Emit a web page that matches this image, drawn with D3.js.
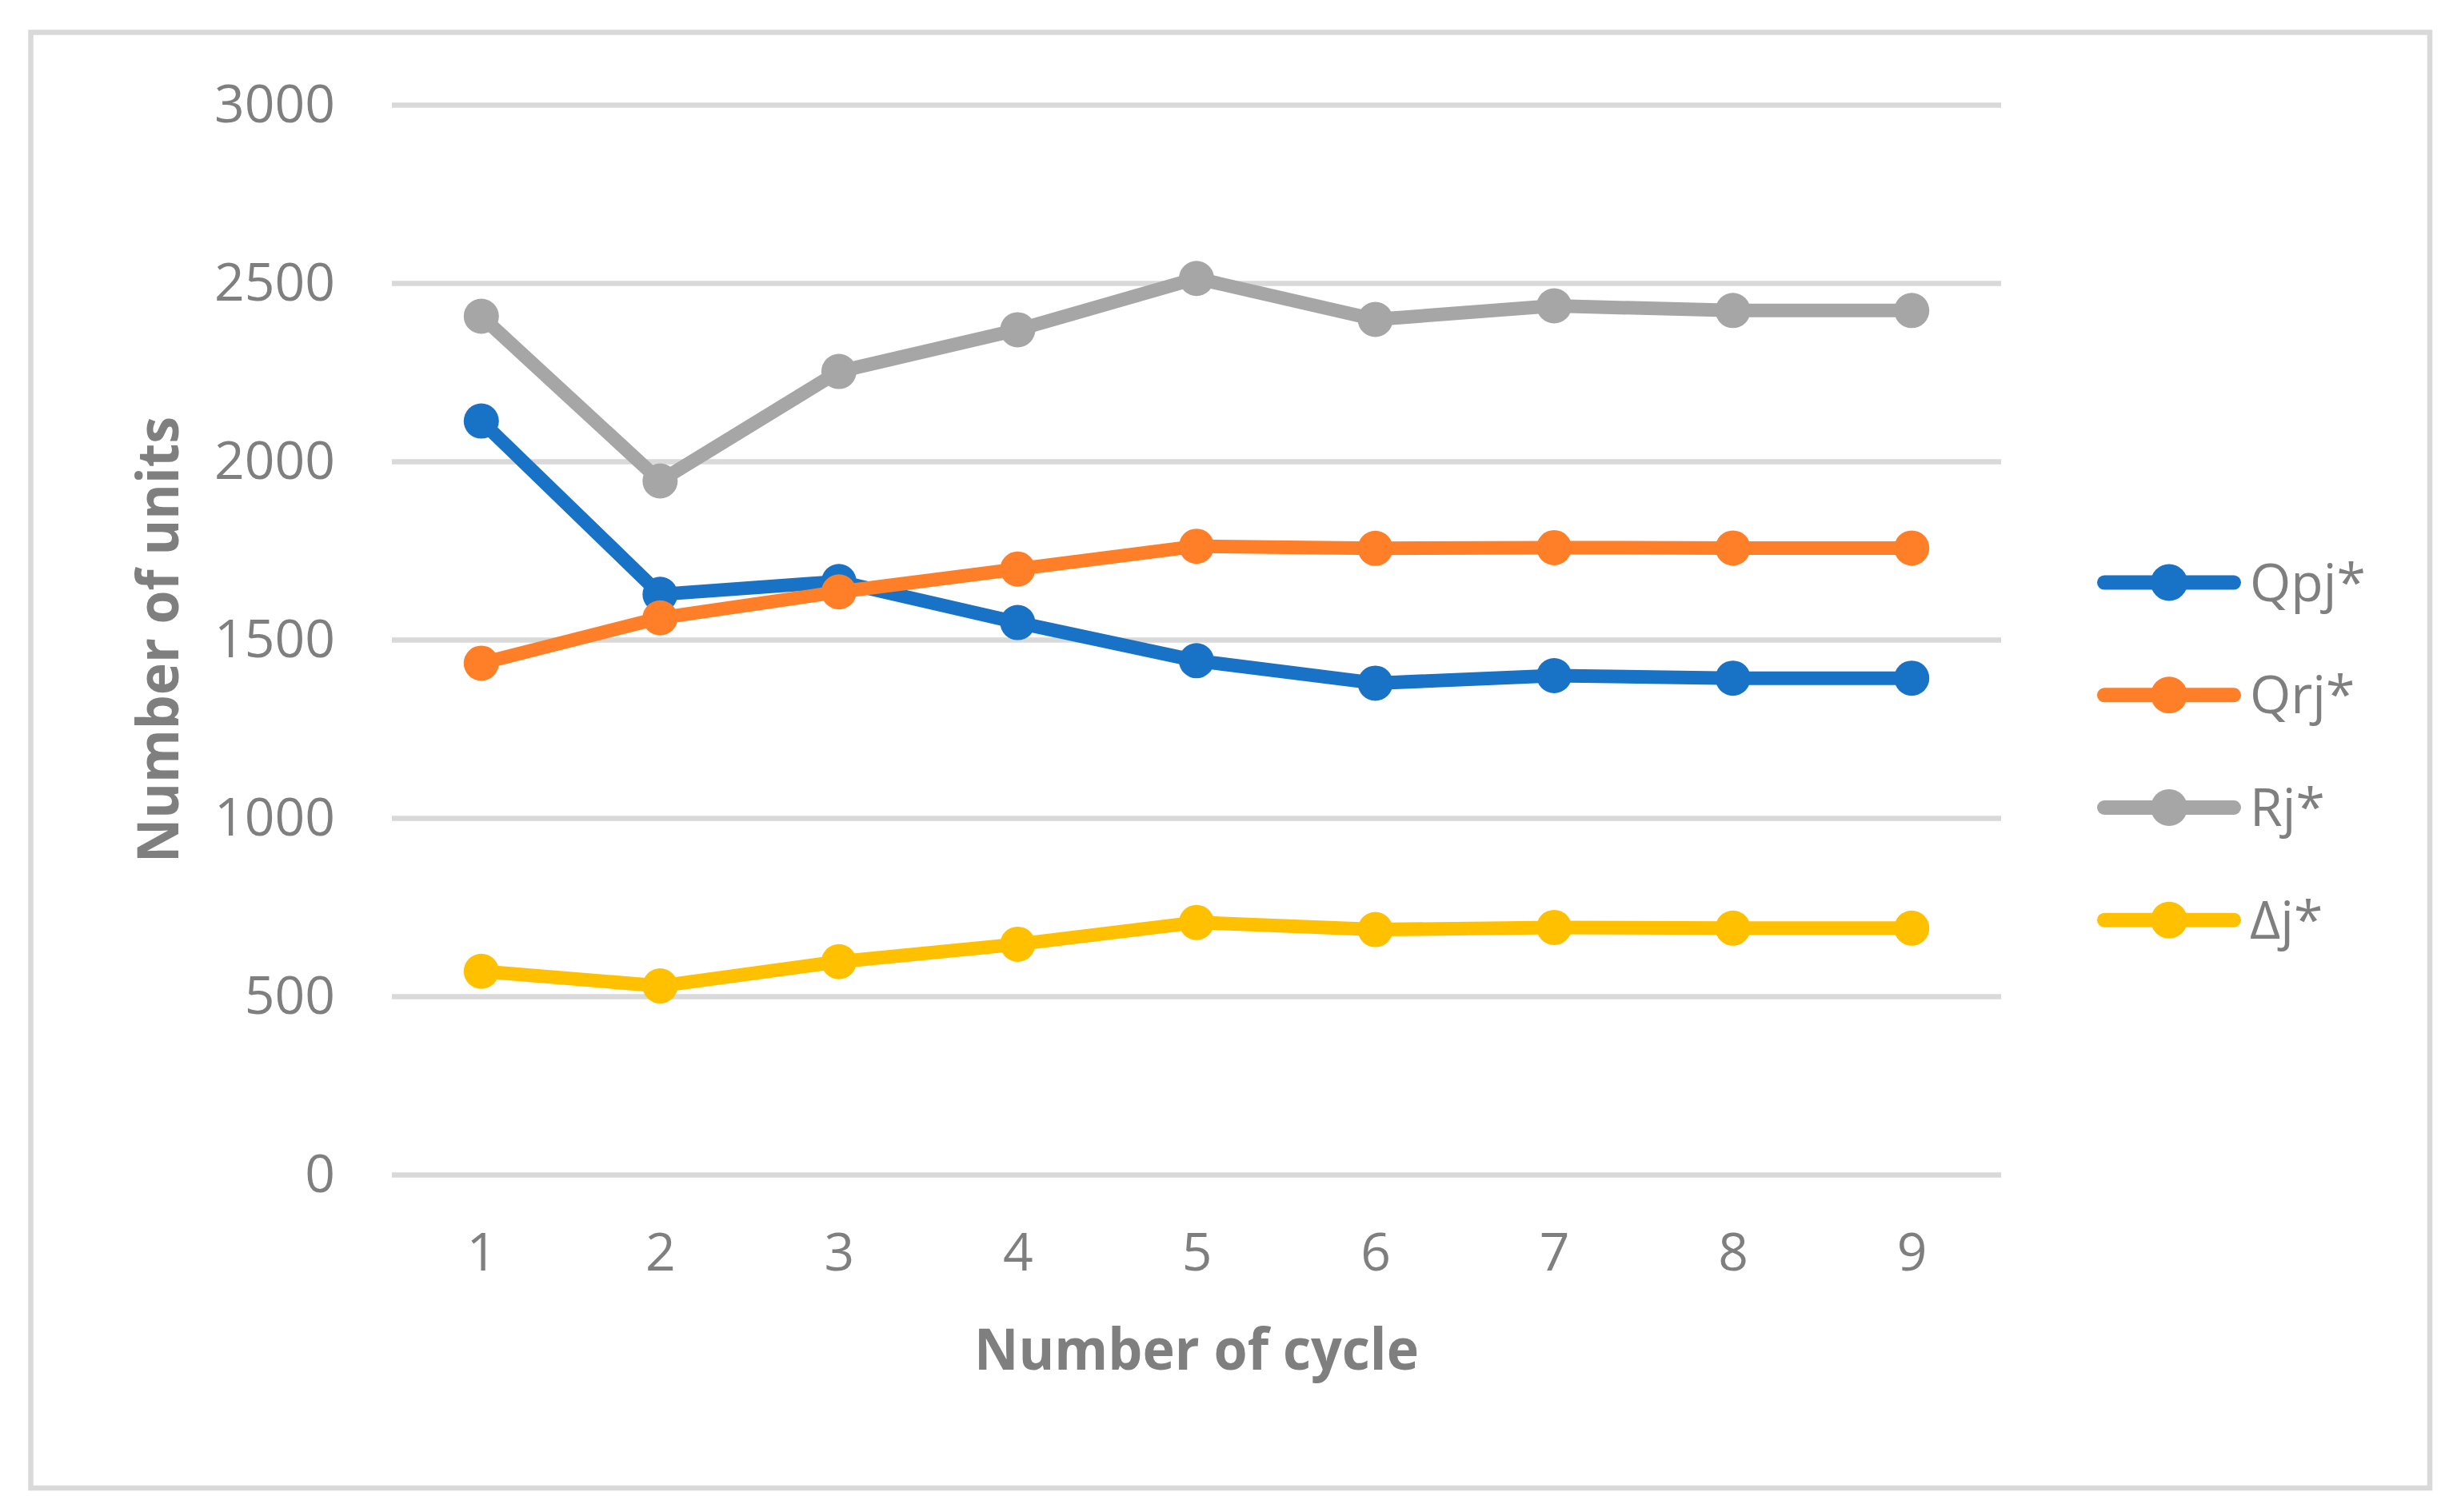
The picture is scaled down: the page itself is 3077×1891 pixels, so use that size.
<!DOCTYPE html>
<meta charset="utf-8">
<html>
<head>
<style>
  body { margin: 0; background: #fff; }
  text { font-family: "Open Sans", sans-serif; fill: #7f7f7f; }
</style>
</head>
<body>
<div id="chart"></div>
<script src="https://d3js.org/d3.v7.min.js"></script>
<script>

// data
var cycles = ["1", "2", "3", "4", "5", "6", "7", "8", "9"];
var seriesNames = ["Qpj*", "Qrj*", "Rj*", "Δj*"];
var qpj   = [2113, 1627, 1663, 1548, 1441, 1378, 1399, 1392, 1392];
var qrj   = [1434, 1561, 1634, 1698, 1762, 1756, 1758, 1757, 1757];
var rj    = [2407, 1945, 2252, 2369, 2513, 2398, 2436, 2423, 2423];
var delta = [570, 529, 597, 646, 707, 687, 693, 691, 691];
var yTicks = [0, 500, 1000, 1500, 2000, 2500, 3000];
var colors = ["#1872c6", "#fe7f27", "#a6a6a6", "#ffc000"];

var series = [qpj, qrj, rj, delta].map(function(vals, i) {
  return { name: seriesNames[i], color: colors[i], values: vals };
});

// dims
var W = 3077, H = 1891;
var plot = { left: 490, right: 2502, top: 131, bottom: 1469 };

var svg = d3.select("#chart")
  .append("svg")
    .attr("width", W)
    .attr("height", H);

svg.append("rect")
  .attr("width", W).attr("height", H)
  .attr("fill", "#fff");

// outer chart border
svg.append("rect")
  .attr("x", 38.5).attr("y", 40.5)
  .attr("width", 2999.5).attr("height", 1820.5)
  .attr("fill", "none")
  .attr("stroke", "#d9d9d9")
  .attr("stroke-width", 6.5);

var x = d3.scalePoint()
  .domain(cycles)
  .range([plot.left, plot.right])
  .padding(0.5);

var y = d3.scaleLinear()
  .domain([0, 3000])
  .range([plot.bottom, plot.top]);

// gridlines + y labels
var yAxis = svg.append("g")
  .attr("transform", "translate(" + plot.left + ",0)")
  .call(d3.axisLeft(y)
    .tickValues(yTicks)
    .tickSize(-(plot.right - plot.left))
    .tickPadding(71)
    .tickFormat(d3.format("d")));
yAxis.select(".domain").remove();
yAxis.selectAll("line")
  .attr("stroke", "#d9d9d9")
  .attr("stroke-width", 6.5);
yAxis.selectAll("text")
  .attr("font-size", 66)
  .attr("fill", "#7f7f7f")
  .style("font-family", "Open Sans");

// x labels
var xAxis = svg.append("g")
  .attr("transform", "translate(0," + plot.bottom + ")")
  .call(d3.axisBottom(x).tickSize(0).tickPadding(73));
xAxis.select(".domain").remove();
xAxis.selectAll("text")
  .attr("font-size", 66)
  .attr("fill", "#7f7f7f")
  .style("font-family", "Open Sans");

// axis titles
svg.append("text")
  .attr("x", (plot.left + plot.right) / 2)
  .attr("y", 1713)
  .attr("text-anchor", "middle")
  .attr("font-size", 72)
  .attr("font-weight", "bold")
  .attr("textLength", 556)
  .attr("lengthAdjust", "spacingAndGlyphs")
  .text("Number of cycle");

svg.append("text")
  .attr("transform", "translate(223," + (plot.top + plot.bottom) / 2 + ") rotate(-90)")
  .attr("text-anchor", "middle")
  .attr("font-size", 72)
  .attr("font-weight", "bold")
  .attr("textLength", 558)
  .attr("lengthAdjust", "spacingAndGlyphs")
  .text("Number of units");

// lines and markers
var line = d3.line()
  .x(function(d, i) { return x(cycles[i]); })
  .y(function(d) { return y(d); });

series.forEach(function(s) {
  var g = svg.append("g");
  g.append("path")
    .datum(s.values)
    .attr("d", line)
    .attr("fill", "none")
    .attr("stroke", s.color)
    .attr("stroke-width", 17)
    .attr("stroke-linejoin", "round")
    .attr("stroke-linecap", "round");
  g.selectAll("circle")
    .data(s.values)
    .enter().append("circle")
      .attr("cx", function(d, i) { return x(cycles[i]); })
      .attr("cy", function(d) { return y(d); })
      .attr("r", 22)
      .attr("fill", s.color);
});

// legend
var legend = svg.append("g");
series.forEach(function(s, i) {
  var ly = 728.6 + i * 140.7;
  legend.append("line")
    .attr("x1", 2631).attr("x2", 2793)
    .attr("y1", ly).attr("y2", ly)
    .attr("stroke", s.color)
    .attr("stroke-width", 18)
    .attr("stroke-linecap", "round");
  legend.append("circle")
    .attr("cx", 2712).attr("cy", ly)
    .attr("r", 23)
    .attr("fill", s.color);
  legend.append("text")
    .attr("x", 2813).attr("y", ly)
    .attr("dy", "0.35em")
    .attr("font-size", 66)
    .text(s.name);
});

</script>
</body>
</html>
